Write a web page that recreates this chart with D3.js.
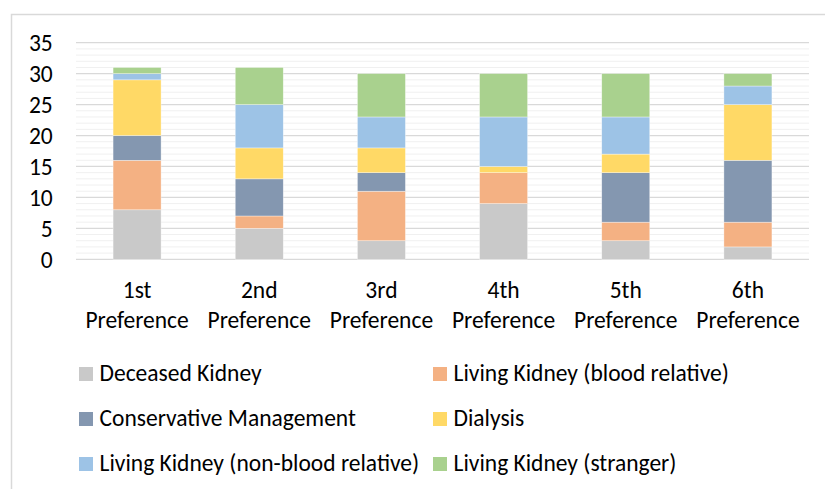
<!DOCTYPE html>
<html>
<head>
<meta charset="utf-8">
<script src="https://cdn.jsdelivr.net/npm/d3@7"></script>
<style>
  body { margin: 0; background: #fff; }
  svg text { font-family: "Carlito", "Open Sans", sans-serif; fill: #000; }
</style>
</head>
<body>
<div id="chart"></div>
<script>
const categories = ["1st Preference", "2nd Preference", "3rd Preference", "4th Preference", "5th Preference", "6th Preference"];
const seriesNames = ["Deceased Kidney", "Living Kidney (blood relative)", "Conservative Management",
                     "Dialysis", "Living Kidney (non-blood relative)", "Living Kidney (stranger)"];
const seriesColors = ["#c9c9c9", "#f4b183", "#8497b0", "#ffd966", "#9dc3e6", "#a9d18e"];

const deceased      = [8, 5, 3, 9, 3, 2];
const bloodRelative = [8, 2, 8, 5, 3, 4];
const conservative  = [4, 6, 3, 0, 8, 10];
const dialysis      = [9, 5, 4, 1, 3, 9];
const nonBlood      = [1, 7, 5, 8, 6, 3];
const stranger      = [1, 6, 7, 7, 7, 2];

const yTicks = [0, 5, 10, 15, 20, 25, 30, 35];

const W = 825, H = 489;
const plot = {left: 76, right: 809, top: 42.7, bottom: 259.3};
const FONT = 23.5;

// build rows for d3.stack
const allSeries = [deceased, bloodRelative, conservative, dialysis, nonBlood, stranger];
const rows = categories.map((c, i) => {
    let r = {cat: c};
    seriesNames.forEach((s, j) => r[s] = allSeries[j][i]);
    return r;
});

const svg = d3.select("#chart").append("svg")
    .attr("width", W)
    .attr("height", H);

// chart frame (runs off right and bottom edges)
svg.append("rect")
    .attr("x", 11.5).attr("y", 14.5)
    .attr("width", W + 10).attr("height", H + 10)
    .attr("fill", "none")
    .attr("stroke", "#d9d9d9")
    .attr("stroke-width", 1.5);

const x = d3.scaleBand()
    .domain(categories)
    .range([plot.left, plot.right])
    .paddingInner(0.607)
    .paddingOuter(0.3035);

const y = d3.scaleLinear()
    .domain([0, 35])
    .range([plot.bottom, plot.top]);

// minor gridlines, one per unit
svg.append("g")
    .selectAll("line")
    .data(d3.range(1, 35).filter(v => v % 5 !== 0))
    .join("line")
        .attr("x1", plot.left).attr("x2", plot.right)
        .attr("y1", d => y(d)).attr("y2", d => y(d))
        .attr("stroke", "#f0f0f0")
        .attr("stroke-width", 1);

// major gridlines
svg.append("g")
    .selectAll("line")
    .data(yTicks)
    .join("line")
        .attr("x1", plot.left).attr("x2", plot.right)
        .attr("y1", d => y(d)).attr("y2", d => y(d))
        .attr("stroke", "#d9d9d9")
        .attr("stroke-width", 1.3);

// y axis labels
const yAxis = svg.append("g")
    .attr("transform", `translate(${plot.left}, 0)`)
    .call(d3.axisLeft(y).tickValues(yTicks).tickSize(0).tickPadding(23.3));
yAxis.select(".domain").remove();
yAxis.selectAll("text")
    .style("font-size", FONT + "px")
    .attr("dy", "0.34em");

// stacked bars
const stacked = d3.stack().keys(seriesNames)(rows);

svg.append("g")
    .selectAll("g")
    .data(stacked)
    .join("g")
        .attr("fill", (d, i) => seriesColors[i])
    .selectAll("rect")
    .data(d => d)
    .join("rect")
        .attr("x", d => x(d.data.cat))
        .attr("width", x.bandwidth())
        .attr("y", d => y(d[1]))
        .attr("height", d => y(d[0]) - y(d[1]))
        .attr("stroke", "#ffffff")
        .attr("stroke-width", 0.6)
        .attr("stroke-opacity", 0.6);

// category labels on two lines
const xAxis = svg.append("g")
    .attr("transform", `translate(0, ${plot.bottom})`)
    .call(d3.axisBottom(x).tickSize(0).tickFormat(""));
xAxis.select(".domain").remove();

xAxis.selectAll(".tick")
    .append("text")
        .attr("text-anchor", "middle")
        .style("font-size", FONT + "px")
        .selectAll("tspan")
        .data(d => d.split(" "))
        .join("tspan")
            .attr("x", 0)
            .attr("y", (d, i) => 39 + i * 30)
            .text(d => d);

// legend, two columns
const legendCols = [79, 433];
const legendRows = [367, 412, 457];

const legend = svg.append("g")
    .selectAll("g")
    .data(seriesNames)
    .join("g")
        .attr("transform", (d, i) => `translate(${legendCols[i % 2]}, ${legendRows[Math.floor(i / 2)]})`);

legend.append("rect")
    .attr("width", 14)
    .attr("height", 14)
    .attr("fill", (d, i) => seriesColors[i]);

legend.append("text")
    .attr("x", 20.5)
    .attr("y", 14.3)
    .style("font-size", FONT + "px")
    .text(d => d);
</script>
</body>
</html>
